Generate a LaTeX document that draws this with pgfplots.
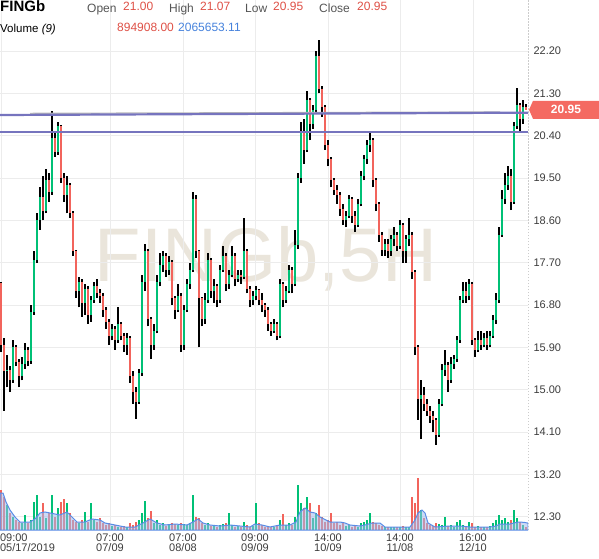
\documentclass[border=0pt]{standalone}
\usepackage{pgfplots}
\pgfplotsset{compat=1.18}
\usepackage{pgfplotstable}
\usepackage{fontspec}
\setmainfont{Liberation Sans}
\definecolor{up}{RGB}{0,192,118}
\definecolor{dn}{RGB}{242,100,92}
\definecolor{trend}{RGB}{118,116,190}
\definecolor{gridc}{RGB}{236,236,236}
\definecolor{wm}{RGB}{234,229,219}
\definecolor{volline}{RGB}{90,140,230}
\definecolor{volfill}{RGB}{160,188,238}
\definecolor{lbl}{RGB}{60,60,60}
\definecolor{hdr}{RGB}{85,85,85}
\definecolor{valred}{RGB}{222,80,70}
\definecolor{valblue}{RGB}{70,130,220}
\definecolor{pricered}{RGB}{244,106,98}
\pgfplotstableread{
x o h l c v
1 17.27 17.30 15.80 15.95 12.0
4 15.95 16.10 14.55 15.40 10.0
7 15.40 15.75 15.05 15.42 7.5
10 15.42 15.50 14.95 15.20 5.0
13 15.20 16.05 15.15 15.90 4.0
16 15.90 15.95 15.50 15.60 3.0
19 15.60 15.65 15.05 15.30 2.5
22 15.30 15.70 15.20 15.55 2.0
25 15.55 16.00 15.45 15.85 4.5
28 15.85 15.90 15.50 15.62 2.0
31 15.62 16.80 15.55 16.65 3.0
34 16.65 17.95 16.60 17.75 8.4
37 17.75 18.75 17.70 18.60 10.5
40 18.60 19.30 18.40 19.10 4.0
43 19.10 19.55 18.60 18.80 8.1
46 18.80 19.70 18.75 19.45 3.5
49 19.45 19.60 19.00 19.20 5.0
52 19.20 20.93 19.15 20.35 10.5
55 20.35 20.45 19.95 20.05 4.0
58 20.05 20.70 20.00 20.60 6.6
61 20.60 20.62 19.40 19.50 8.4
64 19.50 19.60 19.00 19.15 9.3
67 19.15 19.55 18.75 19.35 8.1
70 19.35 19.40 18.65 18.75 5.0
73 18.75 18.80 17.85 17.95 3.0
76 17.95 17.98 16.95 17.10 2.5
79 17.10 17.40 16.75 17.30 2.0
82 17.30 17.35 16.55 16.85 3.0
85 16.85 17.25 16.60 17.15 5.4
88 17.15 17.20 16.40 16.60 2.5
91 16.60 17.00 16.45 16.90 8.1
94 16.90 17.30 16.85 17.20 3.0
97 17.20 17.35 16.95 17.05 2.5
100 17.05 17.15 16.85 17.00 3.5
103 17.00 17.05 16.55 16.70 2.0
106 16.70 16.75 16.30 16.45 1.5
109 16.45 16.50 15.95 16.15 2.0
112 16.15 16.40 16.05 16.30 1.2
115 16.30 16.35 15.85 16.05 1.5
118 16.05 16.75 16.00 16.40 1.0
121 16.40 16.45 16.05 16.15 0.9
124 16.15 16.20 15.80 15.95 1.2
127 15.95 16.20 15.75 16.10 0.8
130 16.10 16.15 15.15 15.30 2.0
133 15.30 15.40 14.70 14.95 1.5
136 14.95 15.05 14.38 14.75 2.4
139 14.75 15.45 14.70 15.35 3.0
142 15.35 17.45 15.30 17.30 5.0
145 17.30 18.10 17.10 17.95 8.7
148 17.95 18.00 16.35 16.50 3.5
151 16.50 16.55 15.65 15.95 5.7
154 15.95 16.40 15.85 16.25 2.0
157 16.25 17.45 16.20 17.30 3.0
160 17.30 17.90 17.20 17.65 1.5
163 17.65 17.95 17.50 17.85 2.0
166 17.85 17.90 17.40 17.55 1.2
169 17.55 17.85 17.45 17.72 1.5
172 17.72 17.75 16.80 16.95 2.2
175 16.95 17.00 16.50 16.70 1.8
178 16.70 17.25 16.65 17.00 1.5
181 17.00 17.05 15.80 15.95 2.0
184 15.95 16.80 15.85 16.70 1.8
187 16.70 17.35 16.65 17.25 1.5
190 17.25 17.70 17.15 17.55 2.0
193 17.55 19.20 17.50 19.05 10.5
196 19.05 19.15 17.80 17.95 4.0
199 17.95 17.98 15.90 16.95 3.5
202 16.95 16.98 16.35 16.50 2.0
205 16.50 17.05 16.40 16.90 1.5
208 16.90 17.90 16.85 17.75 2.0
211 17.75 17.80 16.95 17.10 1.2
214 17.10 17.35 16.85 17.20 1.5
217 17.20 17.25 16.75 16.90 1.0
220 16.90 17.65 16.85 17.55 1.5
223 17.55 18.05 17.50 17.85 1.8
226 17.85 17.90 17.10 17.25 2.0
229 17.25 17.55 17.15 17.45 5.1
232 17.45 18.05 17.40 17.85 1.5
235 17.85 17.90 17.20 17.35 1.0
238 17.35 17.55 17.30 17.45 1.2
241 17.45 17.55 17.25 17.40 0.9
244 17.40 18.65 17.35 17.95 2.5
247 17.95 18.00 17.05 17.15 1.5
250 17.15 17.20 16.75 16.90 1.0
253 16.90 17.10 16.80 17.00 1.2
256 17.00 17.20 16.90 17.12 8.1
259 17.12 17.15 16.80 16.90 2.0
262 16.90 17.05 16.65 16.80 1.5
265 16.80 16.85 16.55 16.70 1.0
268 16.70 16.75 16.25 16.40 1.2
271 16.40 16.45 16.15 16.25 0.9
274 16.25 16.50 16.20 16.40 1.0
277 16.40 16.45 16.05 16.15 1.2
280 16.15 17.35 16.10 17.25 3.0
283 17.25 17.30 16.75 16.90 4.8
286 16.90 17.20 16.85 17.10 1.5
289 17.10 17.65 17.05 17.55 2.0
292 17.55 17.60 17.05 17.25 1.5
295 17.25 18.40 17.20 18.08 4.0
298 18.08 19.60 18.00 19.50 13.5
301 19.50 20.70 19.40 20.50 8.1
304 20.50 20.75 19.80 20.10 6.6
307 20.10 21.35 20.05 21.15 9.9
310 21.15 21.20 20.30 20.65 8.1
313 20.65 21.05 20.55 20.95 3.5
316 20.95 22.20 20.90 22.10 5.0
319 22.10 22.43 21.30 21.40 7.5
322 21.40 21.45 20.80 21.00 4.0
325 21.00 21.05 20.10 20.20 2.5
328 20.20 20.30 19.75 19.90 3.0
331 19.90 19.95 19.30 19.45 5.1
334 19.45 19.50 19.15 19.25 2.0
337 19.25 19.35 18.95 19.15 2.5
340 19.15 19.20 18.70 18.85 1.5
343 18.85 18.95 18.50 18.60 2.0
346 18.60 18.80 18.45 18.70 1.2
349 18.70 19.15 18.65 19.05 1.5
352 19.05 19.10 18.55 18.70 1.0
355 18.70 18.80 18.35 18.50 1.2
358 18.50 19.05 18.45 18.95 1.0
361 18.95 19.65 18.90 19.55 2.0
364 19.55 20.00 19.45 19.90 2.5
367 19.90 20.30 19.80 20.20 3.0
370 20.20 20.45 20.05 20.30 5.1
373 20.30 20.35 19.30 19.45 2.5
376 19.45 19.50 18.80 18.95 2.0
379 18.95 19.00 18.15 18.30 1.5
382 18.30 18.35 17.85 17.98 1.2
385 17.98 18.20 17.85 18.10 0.9
388 18.10 18.20 17.80 17.95 0.8
391 17.95 18.30 17.85 18.20 1.0
394 18.20 18.45 18.05 18.30 0.8
397 18.30 18.35 17.95 18.05 1.0
400 18.05 18.60 18.00 18.50 0.9
403 18.50 18.55 17.70 17.95 1.2
406 17.95 18.30 17.70 18.20 0.8
409 18.20 18.65 18.05 18.30 1.0
412 18.30 18.35 17.35 17.50 9.9
415 17.50 17.55 15.75 15.90 8.1
418 15.90 15.95 14.36 14.80 15.6
421 14.80 15.20 13.95 14.90 6.0
424 14.90 15.05 14.55 14.70 3.5
427 14.70 14.80 14.45 14.55 2.0
430 14.55 14.65 14.30 14.45 1.5
433 14.45 14.55 14.10 14.35 1.2
436 14.35 14.40 13.83 14.05 2.0
439 14.05 14.80 14.00 14.70 1.8
442 14.70 15.55 14.65 15.42 1.5
445 15.42 15.85 15.30 15.52 3.9
448 15.52 15.60 14.95 15.20 1.2
451 15.20 15.70 15.15 15.55 1.5
454 15.55 15.75 15.45 15.65 1.0
457 15.65 16.15 15.60 16.05 2.5
460 16.05 17.00 16.00 16.90 3.0
463 16.90 17.30 16.85 17.10 1.5
466 17.10 17.30 16.85 17.00 1.2
469 17.00 17.35 16.90 17.25 2.5
472 17.25 17.30 15.95 16.05 2.0
475 16.05 16.10 15.70 15.85 1.0
478 15.85 16.25 15.80 16.05 1.2
481 16.05 16.25 15.85 15.95 0.9
484 15.95 16.20 15.90 16.10 1.0
487 16.10 16.25 15.85 15.95 0.8
490 15.95 16.25 15.90 16.15 1.2
493 16.15 16.60 16.10 16.48 2.0
496 16.48 17.05 16.40 16.90 3.0
499 16.90 18.45 16.85 18.30 4.5
502 18.30 19.25 18.25 19.05 3.0
505 19.05 19.60 18.95 19.35 3.5
508 19.35 19.75 19.25 19.55 2.5
511 19.55 19.70 18.82 19.00 3.0
514 19.00 20.70 18.95 20.60 6.0
517 20.60 21.41 20.55 21.05 3.5
520 21.05 21.10 20.50 20.75 2.5
523 20.75 21.15 20.65 21.00 1.5
526 21.00 21.07 20.95 20.95 0.9
}\candles
\begin{document}
\begin{tikzpicture}[x=1pt,y=1pt]
\path[use as bounding box] (0,0) rectangle (599,558);
% watermark
\node[text=wm, font=\fontsize{76}{76}\selectfont, inner sep=0pt] at (266,299) {FINGb,5H};
\begin{axis}[
  at={(0pt,28pt)}, anchor=south west,
  scale only axis, width=528pt, height=530pt,
  xmin=0, xmax=528, ymin=12.021, ymax=23.284,
  axis line style={draw=none}, tick style={draw=none},
  clip mode=individual,
  xtick={110,183,255,328,400,473},
  xticklabels={{07:00\\07/09},{07:00\\08/08},{09:00\\09/09},{14:00\\10/09},{14:00\\11/08},{16:00\\12/10}},
  extra x ticks={1},
  extra x tick labels={{09:00\\05/17/2019}},
  extra x tick style={grid=major, xticklabel style={anchor=north west, xshift=-4.5pt, align=left}},
  xticklabel style={align=center, font=\fontsize{11}{10}\selectfont, text=lbl},
  ytick={12.3,13.2,14.1,15.0,15.9,16.8,17.7,18.6,19.5,20.4,21.3,22.2},
  yticklabel pos=right,
  yticklabel style={anchor=west, xshift=2pt, font=\fontsize{11}{11}\selectfont, text=lbl,
    /pgf/number format/fixed, /pgf/number format/fixed zerofill,
    /pgf/number format/precision=2, /pgf/number format/assume math mode=true},
  xmajorgrids, ymajorgrids, major grid style={gridc, line width=0.8pt},
]
\draw[gray!40, dash pattern=on 1.5pt off 1.5pt, line width=0.8pt] (rel axis cs:1,0) -- (rel axis cs:1,1);
% candles: wicks
\addplot[black, line width=1.1pt, quiver={u=0, v=\thisrow{h}-\thisrow{l}}] table[x=x, y=l] {\candles};
% bodies
\addplot[up, line width=1.3pt, quiver={u=0, v=\thisrow{c}-\thisrow{o}},
  restrict expr to domain={\thisrow{c}-\thisrow{o}}{0:100}] table[x=x, y=o] {\candles};
\addplot[dn, line width=1.3pt, quiver={u=0, v=\thisrow{c}-\thisrow{o}},
  restrict expr to domain={\thisrow{o}-\thisrow{c}}{0.0001:100}] table[x=x, y=o] {\candles};
% trend lines
\addplot[gray!55, line width=1.2pt] coordinates {(30,20.875) (500,20.905)};
\addplot[trend, line width=2.2pt] coordinates {(0,20.84) (528,20.89)};
\addplot[trend, line width=2.2pt] coordinates {(0,20.485) (528,20.485)};
% price label
\fill[pricered] (axis cs:529,20.95) -- ++(4pt,9pt) -- ++(66pt,0pt) -- ++(0pt,-18pt) -- ++(-66pt,0pt) -- cycle;
\node[text=white, font=\bfseries\fontsize{12}{12}\selectfont, inner sep=0pt] at ([xshift=37pt]axis cs:529,20.95) {20.95};
\end{axis}
\begin{axis}[
  at={(0pt,28pt)}, anchor=south west,
  scale only axis, width=528pt, height=530pt,
  xmin=0, xmax=528, ymin=0, ymax=159, hide axis,
]
\addplot[up, line width=1.1pt, ycomb, restrict expr to domain={\thisrow{c}-\thisrow{o}}{0:100}] table[x=x, y=v] {\candles};
\addplot[dn, line width=1.1pt, ycomb, restrict expr to domain={\thisrow{o}-\thisrow{c}}{0.0001:100}] table[x=x, y=v] {\candles};
\addplot[volline, line width=1pt, fill=volfill, fill opacity=0.55] coordinates {
(0,11.1) (3,11.1) (6,8.4) (10,6.0) (15,3.9) (20,2.4) (30,2.4) (35,3.3) (40,5.1) (45,5.4)
(50,5.1) (60,4.5) (67,5.4) (72,3.9) (77,2.4) (85,2.4) (92,3.3) (100,3.0) (105,2.1) (115,1.5)
(125,0.9) (135,0.9) (143,2.1) (150,3.3) (157,2.1) (165,1.5) (175,1.8) (187,1.5) (193,2.4) (198,3.3)
(203,2.1) (210,1.5) (220,1.2) (230,1.5) (240,1.2) (250,0.9) (255,1.8) (262,1.5) (270,0.9) (280,1.5)
(290,1.5) (296,2.4) (300,5.4) (305,6.6) (310,5.4) (315,5.1) (320,3.9) (330,2.4) (340,2.4) (345,2.1)
(350,1.5) (360,1.2) (365,1.5) (372,2.1) (380,2.1) (385,0.9) (395,0.9) (410,0.9) (415,3.0) (418,5.1)
(422,6.0) (425,5.1) (428,2.1) (435,0.9) (450,1.2) (460,1.2) (470,0.9) (490,0.9) (496,1.2) (500,1.8)
(510,1.8) (518,2.4) (524,2.3) (528,2.07)
} \closedcycle;
\end{axis}
% header
\node[anchor=base west, inner sep=0pt, font=\bfseries\fontsize{15}{15}\selectfont] at (0,546) {FINGb};
\node[anchor=base west, inner sep=0pt, text=hdr, font=\fontsize{12}{12}\selectfont] at (87,545.7) {Open};
\node[anchor=base west, inner sep=0pt, text=valred, font=\fontsize{12}{12}\selectfont] at (123,547) {21.00};
\node[anchor=base west, inner sep=0pt, text=hdr, font=\fontsize{12}{12}\selectfont] at (169,545.7) {High};
\node[anchor=base west, inner sep=0pt, text=valred, font=\fontsize{12}{12}\selectfont] at (200,547) {21.07};
\node[anchor=base west, inner sep=0pt, text=hdr, font=\fontsize{12}{12}\selectfont] at (245,545.7) {Low};
\node[anchor=base west, inner sep=0pt, text=valred, font=\fontsize{12}{12}\selectfont] at (273,547) {20.95};
\node[anchor=base west, inner sep=0pt, text=hdr, font=\fontsize{12}{12}\selectfont] at (319,545.7) {Close};
\node[anchor=base west, inner sep=0pt, text=valred, font=\fontsize{12}{12}\selectfont] at (357,547) {20.95};
\node[anchor=base west, inner sep=0pt, font=\fontsize{11.5}{11.5}\selectfont] at (0,525) {Volume \textit{(9)}};
\node[anchor=base west, inner sep=0pt, text=valred, font=\fontsize{12}{12}\selectfont] at (117,526) {894908.00};
\node[anchor=base west, inner sep=0pt, text=valblue, font=\fontsize{12}{12}\selectfont] at (178,526) {2065653.11};
\end{tikzpicture}
\end{document}
